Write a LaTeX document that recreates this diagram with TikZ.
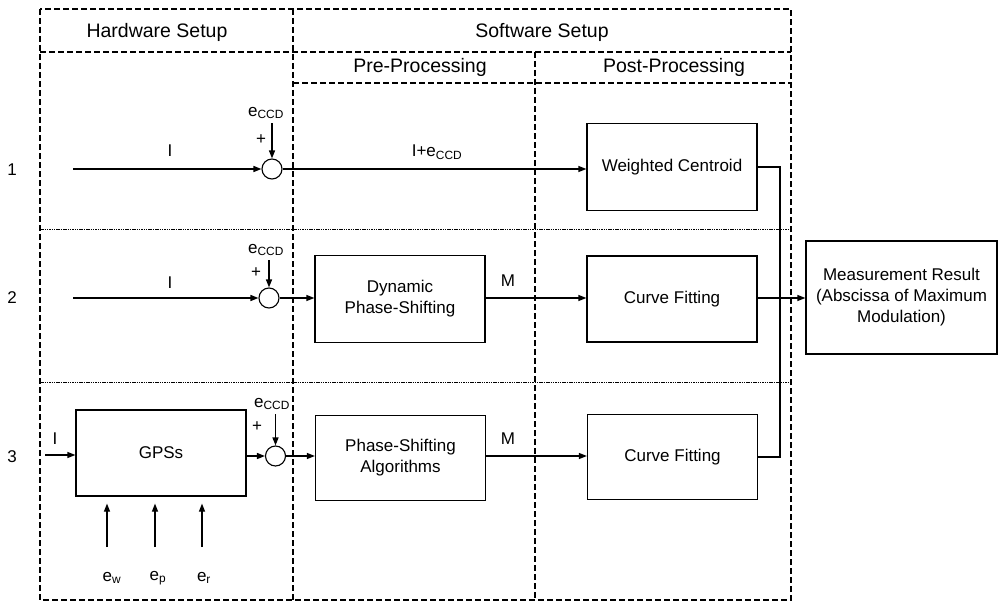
\documentclass[tikz,border=0pt]{standalone}
\usepackage{fontspec}
\setmainfont{Liberation Sans}
\usetikzlibrary{arrows.meta}
\begin{document}
\begin{tikzpicture}[x=1pt,y=-1pt,
  frame/.style={line width=1.1pt, dash pattern=on 6pt off 3pt},
  rowsep/.style={line width=0.9pt, dash pattern=on 1.5pt off 0.8pt},
  blk/.style={draw, line width=1.2pt, minimum width=170pt, minimum height=86pt, inner sep=0pt, align=center, font=\fontsize{17}{21}\selectfont},
  sumc/.style={draw, circle, line width=1.1pt, minimum size=20pt, inner sep=0pt},
  lbl/.style={inner sep=0pt, font=\fontsize{17}{20}\selectfont},
  hdr/.style={inner sep=0pt, font=\fontsize{19.5}{22}\selectfont},
  wire/.style={line width=1.2pt},
  arr/.style={line width=1.2pt, -{Triangle[length=8pt,width=6pt]}},
]
\useasboundingbox (0,0) rectangle (999,602);

% frame
\draw[frame] (40,9) rectangle (791,600);
\draw[frame] (40,52) -- (791,52);
\draw[frame] (293,9) -- (293,600);
\draw[frame] (535,52) -- (535,600);
\draw[frame] (293,83) -- (791,83);
\draw[rowsep] (40,229) -- (791,229);
\draw[rowsep] (40,382) -- (791,382);

% headers
\node[hdr] (hw) at (157,32) {Hardware Setup};
\node[hdr] (sw) at (542,32) {Software Setup};
\node[hdr] (pre) at (420,67) {Pre-Processing};
\node[hdr] (post) at (674,67) {Post-Processing};

% row numbers
\node[lbl] (n1) at (12,170) {1};
\node[lbl] (n2) at (12,298) {2};
\node[lbl] (n3) at (12,457) {3};

% row 1
\coordinate (in1) at (73,169);
\node[sumc] (c1) at (272,169) {};
\node[lbl] (i1) at (170,151) {I};
\node[lbl] (e1) at (266,113) {e\textsubscript{CCD}};
\node[lbl] (p1) at (261,140) {+};
\node[blk, minimum height=87pt] (wc) at (672,167) {Weighted Centroid};
\node[lbl] (ie) at (437,152) {I+e\textsubscript{CCD}};
\draw[arr] (in1) -- (c1);
\draw[arr] (e1.south -| c1.north) ++(0,4) -- (c1.north);
\draw[arr] (c1) -- (wc.west |- c1);

% row 2
\coordinate (in2) at (73,298);
\node[sumc] (c2) at (269,298) {};
\node[lbl] (i2) at (170,283) {I};
\node[lbl] (e2) at (266,250) {e\textsubscript{CCD}};
\node[lbl] (p2) at (256,273) {+};
\node[blk, minimum height=87pt] (dps) at (400,299) {Dynamic\\Phase-Shifting};
\node[blk] (cf2) at (672,299) {Curve Fitting};
\node[lbl] (m2) at (508,281) {M};
\draw[arr] (in2) -- (c2);
\draw[arr] (e2.south -| c2.north) ++(0,4) -- (c2.north);
\draw[arr] (c2) -- (dps.west |- c2);
\draw[arr] (dps.east |- c2) -- (cf2.west |- c2);

% measurement result
\node[blk, minimum width=191pt, minimum height=113pt] (mr) at (901.5,297.5) {Measurement Result\\(Abscissa of Maximum\\Modulation)};
\draw[arr] (cf2.east |- c2) -- (mr.west |- c2);
\coordinate (jn) at (780,298);

% row 3
\coordinate (in3) at (45,455);
\node[lbl] (i3) at (55,439) {I};
\node[blk] (gps) at (161,453) {GPSs};
\node[sumc] (c3) at (275.5,456) {};
\node[lbl] (e3) at (272,404) {e\textsubscript{CCD}};
\node[lbl] (p3) at (257,427) {+};
\node[blk, minimum height=85pt] (psa) at (400.5,458) {Phase-Shifting\\Algorithms};
\node[blk, minimum height=85pt] (cf3) at (672.5,457) {Curve Fitting};
\node[lbl] (m3) at (508,439) {M};
\draw[arr] (in3) -- (gps.west |- in3);
\draw[arr] (gps.east |- c3) -- (c3);
\draw[arr] (e3.south -| c3.north) ++(0,4) -- (c3.north);
\draw[arr] (c3) -- (psa.west |- c3);
\draw[arr] (psa.east |- c3) -- (cf3.west |- c3);

% outputs to junction
\draw[wire] (wc.east) -| (jn);
\draw[wire] (cf3.east) -| (jn);

% error inputs to GPSs
\node[lbl] (ew) at (112,578) {e\textsubscript{w}};
\node[lbl] (ep) at (158,578) {e\textsubscript{p}};
\node[lbl] (er) at (204,578) {e\textsubscript{r}};
\coordinate (sw0) at (107,547);
\coordinate (sp0) at (155,547);
\coordinate (sr0) at (202,547);
\draw[arr, shorten >=7pt] (sw0) -- (gps.south -| sw0);
\draw[arr, shorten >=7pt] (sp0) -- (gps.south -| sp0);
\draw[arr, shorten >=7pt] (sr0) -- (gps.south -| sr0);
\end{tikzpicture}
\end{document}
